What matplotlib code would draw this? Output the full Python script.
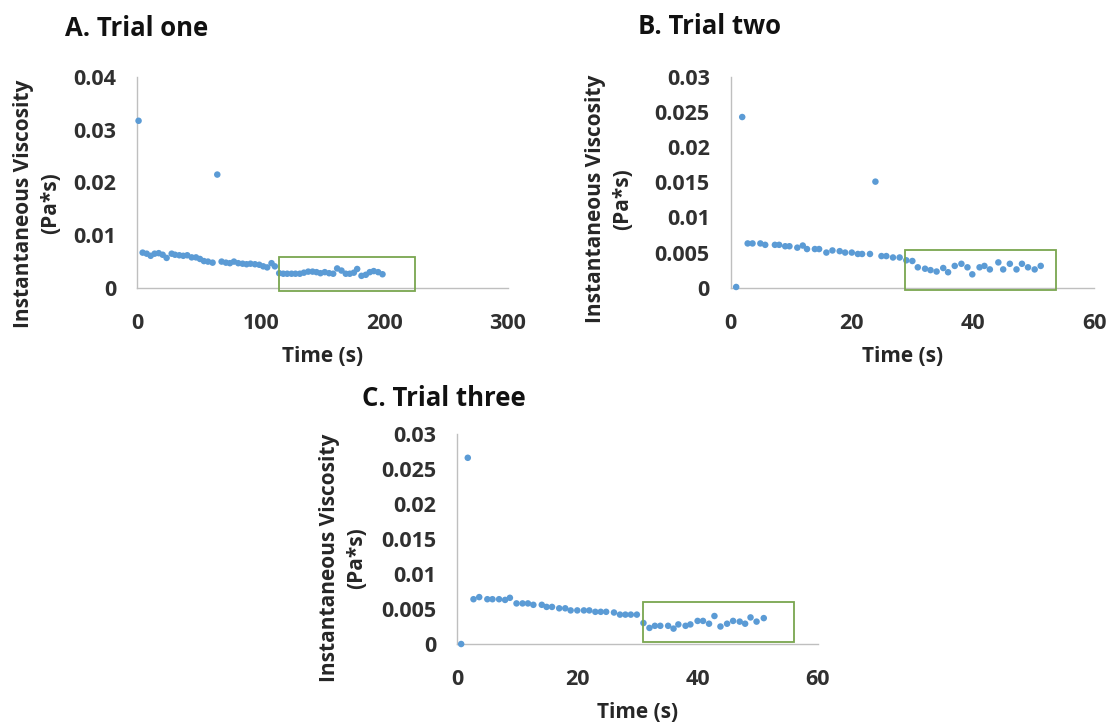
import matplotlib
matplotlib.use('Agg')
import matplotlib.pyplot as plt
from matplotlib.patches import Rectangle

plt.rcParams['font.family'] = ['Open Sans', 'DejaVu Sans']
plt.rcParams['font.weight'] = 'bold'

# Trial one
t1 = [1.0, 4.3, 7.6, 10.8, 14.0, 17.3, 20.5, 23.7, 27.8, 30.5, 34.0, 37.2, 40.4, 44.0,
      47.5, 50.7, 53.9, 57.2, 60.9, 64.7, 68.2, 71.7, 74.9, 78.2, 81.7, 85.2, 88.4,
      91.6, 95.2, 98.7, 101.9, 105.1, 108.6, 111.3, 114.8, 118.1, 121.3, 124.8, 128.0,
      131.5, 134.8, 138.3, 141.8, 145.0, 148.2, 151.7, 155.2, 158.5, 161.7, 165.2,
      168.7, 171.9, 175.2, 177.9, 181.4, 184.9, 188.1, 191.3, 194.9, 198.4]
v1 = [0.0317, 0.0067, 0.0065, 0.0061, 0.0065, 0.0066, 0.0063, 0.0057, 0.0065, 0.0063,
      0.0062, 0.0061, 0.0062, 0.0058, 0.0058, 0.0055, 0.0051, 0.0050, 0.0048, 0.0215,
      0.0050, 0.0048, 0.0047, 0.0050, 0.0047, 0.0046, 0.0045, 0.0046, 0.0045, 0.0044,
      0.0041, 0.0039, 0.0047, 0.0041, 0.0028, 0.0027, 0.0027, 0.0027, 0.0027, 0.0027,
      0.0029, 0.0031, 0.0031, 0.0030, 0.0028, 0.0030, 0.0028, 0.0027, 0.0037, 0.0033,
      0.0027, 0.0027, 0.0029, 0.0036, 0.0023, 0.0025, 0.0030, 0.0032, 0.0030, 0.0026]

# Trial two
t2 = [0.9, 1.9, 2.8, 3.6, 4.9, 5.7, 7.3, 8.0, 9.0, 9.7, 11.0, 11.9, 12.6, 13.9, 14.6,
      15.8, 16.8, 18.0, 18.9, 20.0, 21.0, 21.7, 23.0, 23.9, 24.9, 25.7, 26.8, 27.9,
      29.0, 30.0, 30.9, 32.1, 33.0, 34.0, 35.1, 35.9, 37.0, 38.1, 39.1, 39.9, 41.1,
      41.9, 42.8, 44.2, 45.0, 46.1, 47.2, 48.1, 49.1, 50.2, 51.2]
v2 = [0.0001, 0.0243, 0.0063, 0.0063, 0.0063, 0.0061, 0.0061, 0.0061, 0.0059, 0.0059,
      0.0057, 0.0060, 0.0055, 0.0055, 0.0055, 0.0050, 0.0053, 0.0052, 0.0050, 0.0050,
      0.0048, 0.0048, 0.0048, 0.0151, 0.0045, 0.0045, 0.0043, 0.0043, 0.0039, 0.0038,
      0.0029, 0.0027, 0.0025, 0.0023, 0.0028, 0.0022, 0.0031, 0.0034, 0.0029, 0.0019,
      0.0029, 0.0031, 0.0026, 0.0036, 0.0026, 0.0034, 0.0026, 0.0034, 0.0029, 0.0026,
      0.0031]

# Trial three
t3 = [0.7, 1.8, 2.75, 3.7, 5.05, 5.9, 7.0, 8.0, 8.8, 9.9, 10.9, 11.8, 12.7, 14.1, 14.9,
      15.8, 17.0, 18.0, 18.9, 20.0, 21.1, 22.0, 23.0, 23.9, 24.8, 26.1, 27.1, 28.0,
      28.9, 29.9, 31.0, 32.0, 32.9, 33.8, 35.1, 36.0, 36.8, 38.0, 38.8, 40.0, 40.9,
      41.9, 42.8, 43.8, 44.9, 45.9, 47.0, 47.9, 48.8, 49.8, 51.0]
v3 = [0.0, 0.0266, 0.0064, 0.0067, 0.0064, 0.0064, 0.0064, 0.0063, 0.0066, 0.0058,
      0.0058, 0.0058, 0.0056, 0.0056, 0.0053, 0.0053, 0.0051, 0.0051, 0.0048, 0.0048,
      0.0048, 0.0048, 0.0046, 0.0046, 0.0046, 0.0045, 0.0042, 0.0042, 0.0042, 0.0042,
      0.0030, 0.0023, 0.0026, 0.0026, 0.0026, 0.0022, 0.0028, 0.0026, 0.0028, 0.0033,
      0.0033, 0.0029, 0.0040, 0.0025, 0.0029, 0.0033, 0.0032, 0.0029, 0.0038, 0.0032,
      0.0037]

panels = [
    # title, t, v, axes rect, xticks, yticks, ytick labels, box (x0, y0, x1, y1),
    # ylabel xy, xlabel x, title xy (px)
    ('A. Trial one', t1, v1, [0.1236, 0.6028, 0.3337, 0.2910], [0, 100, 200, 300],
     [0, 0.01, 0.02, 0.03, 0.04], ['0', '0.01', '0.02', '0.03', '0.04'],
     (115, -0.0006, 225, 0.0058), (-0.27, 0.40), 0.5, (65, 28)),
    ('B. Trial two', t2, v2, [0.6577, 0.6032, 0.3270, 0.2906], [0, 20, 40, 60],
     [0, 0.005, 0.01, 0.015, 0.02, 0.025, 0.03],
     ['0', '0.005', '0.01', '0.015', '0.02', '0.025', '0.03'],
     (28.8, -0.0003, 53.7, 0.0053), (-0.335, 0.42), 0.474, (638, 26)),
    ('C. Trial three', t3, v3, [0.4113, 0.1117, 0.3249, 0.2897], [0, 20, 40, 60],
     [0, 0.005, 0.01, 0.015, 0.02, 0.025, 0.03],
     ['0', '0.005', '0.01', '0.015', '0.02', '0.025', '0.03'],
     (30.9, 0.0003, 56.0, 0.0060), (-0.315, 0.41), 0.5, (362, 398)),
]

W, H = 1111, 725
fig = plt.figure(figsize=(W / 100, H / 100), dpi=100)

for title, t, v, rect, xt, yt, ytl, box, ylab, xlab_x, txy in panels:
    ax = fig.add_axes(rect)
    ax.scatter(t, v, s=22, color='#5b9bd5', edgecolors='none', zorder=3, clip_on=False)
    ax.set_xlim(xt[0], xt[-1])
    ax.set_ylim(yt[0], yt[-1])
    ax.set_xticks(xt)
    ax.set_xticklabels([str(x) for x in xt])
    ax.set_yticks(yt)
    ax.set_yticklabels(ytl)
    ax.tick_params(length=0, labelsize=15.5, colors='#303030')
    ax.tick_params(axis='x', pad=18)
    ax.tick_params(axis='y', pad=15)
    for s in ['top', 'right']:
        ax.spines[s].set_visible(False)
    for s in ['left', 'bottom']:
        ax.spines[s].set_color('#bfbfbf')
        ax.spines[s].set_linewidth(1.0)
    x0, y0, x1, y1 = box
    ax.add_patch(Rectangle((x0, y0), x1 - x0, y1 - y0, fill=False,
                           edgecolor='#7aa64f', linewidth=1.3, clip_on=False, zorder=4))
    ax.set_xlabel('Time (s)', fontsize=15, fontweight='bold', color='#262626',
                  va='center')
    ax.xaxis.set_label_coords(xlab_x, -0.325)
    ax.set_ylabel('Instantaneous Viscosity\n(Pa*s)', fontsize=15, fontweight='bold',
                  color='#262626', va='center', linespacing=1.35)
    ax.yaxis.set_label_coords(*ylab)
    fig.text(txy[0] / W, 1 - txy[1] / H, title, fontsize=18.5, fontweight='bold',
             ha='left', va='center', color='#111111')

fig.savefig('out.png', dpi=100)
